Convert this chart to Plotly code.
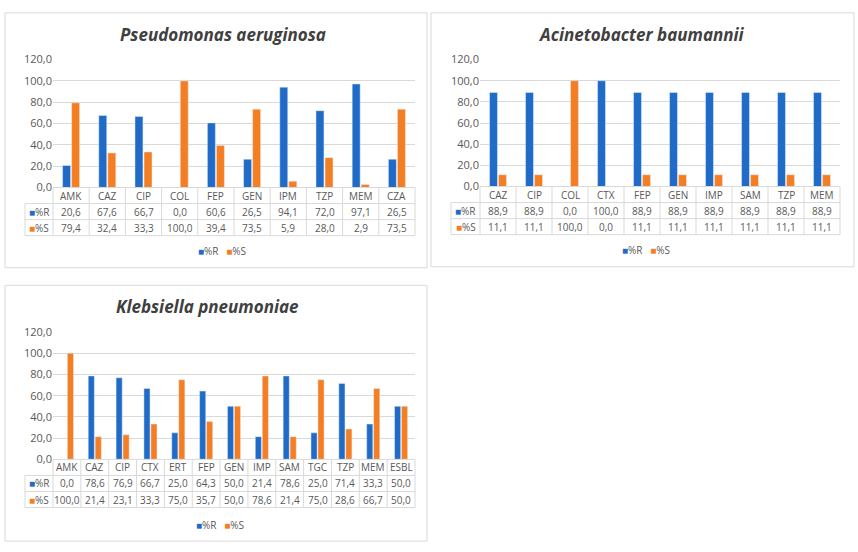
import plotly.graph_objects as go

W, H = 858, 552

# ---------------- data ----------------
pa_cats = ["AMK", "CAZ", "CIP", "COL", "FEP", "GEN", "IPM", "TZP", "MEM", "CZA"]
pa_r = [20.6, 67.6, 66.7, 0.0, 60.6, 26.5, 94.1, 72.0, 97.1, 26.5]
pa_s = [79.4, 32.4, 33.3, 100.0, 39.4, 73.5, 5.9, 28.0, 2.9, 73.5]

ab_cats = ["CAZ", "CIP", "COL", "CTX", "FEP", "GEN", "IMP", "SAM", "TZP", "MEM"]
ab_r = [88.9, 88.9, 0.0, 100.0, 88.9, 88.9, 88.9, 88.9, 88.9, 88.9]
ab_s = [11.1, 11.1, 100.0, 0.0, 11.1, 11.1, 11.1, 11.1, 11.1, 11.1]

kp_cats = ["AMK", "CAZ", "CIP", "CTX", "ERT", "FEP", "GEN", "IMP", "SAM", "TGC", "TZP", "MEM", "ESBL"]
kp_r = [0.0, 78.6, 76.9, 66.7, 25.0, 64.3, 50.0, 21.4, 78.6, 25.0, 71.4, 33.3, 50.0]
kp_s = [100.0, 21.4, 23.1, 33.3, 75.0, 35.7, 50.0, 78.6, 21.4, 75.0, 28.6, 66.7, 50.0]

titles = ["Pseudomonas aeruginosa", "Acinetobacter baumannii", "Klebsiella pneumoniae"]
series_names = ["%R", "%S"]
y_ticks = [0, 20, 40, 60, 80, 100, 120]

# ---------------- style ----------------
BLUE = "#1f6bc7"
ORANGE = "#f57d22"
GRID = "#d9d9d9"
TXT = "#595959"
FONT = "Open Sans"

# layout in pixels: box, plot area, key column left, title centre, legend centre
panels = [
    dict(cats=pa_cats, r=pa_r, s=pa_s, title=titles[0],
         box=(5, 5, 427, 267), px=(53, 415), py=(53, 184.5), key=25,
         tc=(223, 27), lc=(222, 250)),
    dict(cats=ab_cats, r=ab_r, s=ab_s, title=titles[1],
         box=(431, 5, 854, 266), px=(480, 840), py=(53, 183.5), key=451,
         tc=(641, 27), lc=(646, 249)),
    dict(cats=kp_cats, r=kp_r, s=kp_s, title=titles[2],
         box=(5, 285, 427, 548), px=(53, 415), py=(333, 464), key=25,
         tc=(207, 307), lc=(220, 531)),
]
ROW_H = 16.5


def fx(p):
    return p / W


def fy(p):
    return 1 - p / H


fig = go.Figure()
shapes = []
annotations = []
layout_axes = {}

for k, pnl in enumerate(panels):
    idx = "" if k == 0 else str(k + 1)
    xa, ya = "x" + idx, "y" + idx
    cats = pnl["cats"]
    n = len(cats)

    fig.add_trace(go.Bar(x=cats, y=pnl["r"], name=series_names[0], marker_color=BLUE,
                         xaxis=xa, yaxis=ya, showlegend=False))
    fig.add_trace(go.Bar(x=cats, y=pnl["s"], name=series_names[1], marker_color=ORANGE,
                         xaxis=xa, yaxis=ya, showlegend=False))

    x0, x1 = pnl["px"]
    top, bot = pnl["py"]
    layout_axes["xaxis" + idx] = dict(domain=[fx(x0), fx(x1)], anchor=ya,
                                      showticklabels=False, showgrid=False,
                                      zeroline=False, showline=False, ticks="",
                                      range=[-0.5, n - 0.5])
    layout_axes["yaxis" + idx] = dict(domain=[fy(bot), fy(top)], anchor=xa,
                                      range=[0, 120], tickvals=y_ticks,
                                      tickformat=".1f", showgrid=True,
                                      gridcolor=GRID, gridwidth=1, zeroline=False,
                                      showline=False, ticks="",
                                      tickfont=dict(family=FONT, size=11, color=TXT))

    # panel border
    bx0, by0, bx1, by1 = pnl["box"]
    shapes.append(dict(type="rect", xref="paper", yref="paper",
                       x0=fx(bx0), x1=fx(bx1), y0=fy(by1), y1=fy(by0),
                       line=dict(color=GRID, width=1), fillcolor="rgba(0,0,0,0)",
                       layer="below"))

    # title
    annotations.append(dict(xref="paper", yref="paper", x=fx(pnl["tc"][0]),
                            y=fy(pnl["tc"][1]), xanchor="center", yanchor="middle",
                            showarrow=False,
                            text="<b><i>" + pnl["title"] + "</i></b>",
                            font=dict(family=FONT, size=17, color="#404040")))

    # data table lines
    key = pnl["key"]
    r1, r2, r3 = bot + ROW_H, bot + 2 * ROW_H, bot + 3 * ROW_H
    lw = dict(color=GRID, width=1)
    shapes.append(dict(type="line", xref="paper", yref="paper", x0=fx(x0), x1=fx(x1),
                       y0=fy(bot), y1=fy(bot), line=lw))
    for yy in (r1, r2, r3):
        shapes.append(dict(type="line", xref="paper", yref="paper", x0=fx(key), x1=fx(x1),
                           y0=fy(yy), y1=fy(yy), line=lw))
    shapes.append(dict(type="line", xref="paper", yref="paper", x0=fx(key), x1=fx(key),
                       y0=fy(r1), y1=fy(r3), line=lw))
    for i in range(n + 1):
        shapes.append(dict(type="line", xref=xa + " domain", yref="paper",
                           x0=i / n, x1=i / n, y0=fy(bot), y1=fy(r3), line=lw))

    # table text
    tf = dict(family=FONT, size=10, color=TXT)
    for i, c in enumerate(cats):
        for yy, txt in ((bot + ROW_H / 2, c),
                        (r1 + ROW_H / 2, f"{pnl['r'][i]:.1f}".replace(".", ",")),
                        (r2 + ROW_H / 2, f"{pnl['s'][i]:.1f}".replace(".", ","))):
            annotations.append(dict(xref=xa, yref="paper", x=c, y=fy(yy),
                                    xanchor="center", yanchor="middle", showarrow=False,
                                    text=txt, font=tf))
    kx = fx((key + x0) / 2)
    for yy, col, nm in ((r1 + ROW_H / 2, BLUE, series_names[0]),
                        (r2 + ROW_H / 2, ORANGE, series_names[1])):
        annotations.append(dict(xref="paper", yref="paper", x=kx, y=fy(yy),
                                xanchor="center", yanchor="middle", showarrow=False,
                                text=f"<span style='color:{col}'>■</span>{nm}", font=tf))

    # legend (Excel-style compact key)
    annotations.append(dict(xref="paper", yref="paper", x=fx(pnl["lc"][0]),
                            y=fy(pnl["lc"][1]), xanchor="center", yanchor="middle",
                            showarrow=False,
                            text=(f"<span style='color:{BLUE}'>■</span>{series_names[0]}"
                                  f"   <span style='color:{ORANGE}'>■</span>{series_names[1]}"),
                            font=tf))

fig.update_layout(
    width=W, height=H,
    margin=dict(l=0, r=0, t=0, b=0),
    paper_bgcolor="white", plot_bgcolor="white",
    barmode="group", bargap=0.5, bargroupgap=0.12,
    separators=",.",
    shapes=shapes, annotations=annotations,
    font=dict(family=FONT, color=TXT),
    showlegend=False,
    **layout_axes,
)

fig.write_html(
    "out.html",
    config={"displayModeBar": False},
    post_script=("document.documentElement.style.margin='0';"
                 "document.documentElement.style.padding='0';"
                 "document.documentElement.style.overflow='hidden';"
                 "document.body.style.margin='0';document.body.style.padding='0';"
                 "document.body.style.overflow='hidden';"
                 "var d=document.getElementById('{plot_id}');"
                 "d.style.position='fixed';d.style.left='0';d.style.top='0';"),
)
